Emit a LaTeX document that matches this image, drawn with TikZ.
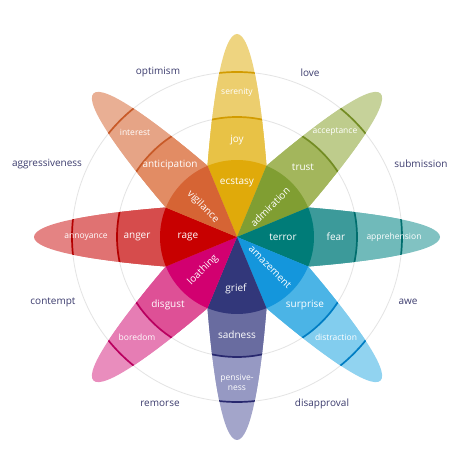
\documentclass[tikz,border=0pt]{standalone}
\usepackage{fontspec}
\setmainfont{Open Sans}
\usepackage{tikz}

\definecolor{navytext}{RGB}{60,60,110}
\definecolor{ringgrey}{RGB}{228,228,228}
% joy
\definecolor{ecstasyc}{RGB}{224,170,10}
\definecolor{joyc}{RGB}{232,194,70}
\definecolor{serenityc}{RGB}{236,206,110}
\definecolor{joyline}{RGB}{210,155,0}
% trust
\definecolor{admirationc}{RGB}{128,158,50}
\definecolor{trustc}{RGB}{163,182,92}
\definecolor{acceptancec}{RGB}{190,204,140}
\definecolor{trustline}{RGB}{115,140,35}
% fear
\definecolor{terrorc}{RGB}{0,124,120}
\definecolor{fearc}{RGB}{60,154,154}
\definecolor{apprehensionc}{RGB}{112,186,186}
\definecolor{fearline}{RGB}{0,110,110}
% surprise
\definecolor{amazementc}{RGB}{20,150,220}
\definecolor{surprisec}{RGB}{75,180,230}
\definecolor{distractionc}{RGB}{130,205,238}
\definecolor{surpriseline}{RGB}{0,125,195}
% sadness
\definecolor{griefc}{RGB}{50,55,122}
\definecolor{sadnessc}{RGB}{105,108,160}
\definecolor{pensivenessc}{RGB}{150,153,195}
\definecolor{sadnessline}{RGB}{40,40,110}
% disgust
\definecolor{loathingc}{RGB}{210,0,112}
\definecolor{disgustc}{RGB}{222,80,150}
\definecolor{boredomc}{RGB}{230,125,180}
\definecolor{disgustline}{RGB}{185,0,95}
% anger
\definecolor{ragec}{RGB}{200,0,0}
\definecolor{angerc}{RGB}{214,76,76}
\definecolor{annoyancec}{RGB}{224,114,114}
\definecolor{angerline}{RGB}{180,0,0}
% anticipation
\definecolor{vigilancec}{RGB}{214,100,52}
\definecolor{anticipationc}{RGB}{226,140,100}
\definecolor{interestc}{RGB}{230,164,134}
\definecolor{anticipationline}{RGB}{200,90,40}

\def\petalshape{(0,0) -- (29.5,71) .. controls (24,140) and (14,203) .. (0,203)
  .. controls (-14,203) and (-24,140) .. (-29.5,71) -- cycle}

% angle, ring colour, middle colour, line colour
\newcommand{\petal}[4]{%
  \begin{scope}[shift={(237,237)},rotate=#1-90]
    \fill[#2!88!white] \petalshape;
    \begin{scope}
      \clip \petalshape;
      \fill[#2] (0,0) circle (165);
      \fill[#3] (0,0) circle (120);
      \draw[#4,line width=1.7pt] (0,0) circle (120) (0,0) circle (165);
    \end{scope}
  \end{scope}}

% angle, colour
\newcommand{\core}[2]{%
  \fill[#2] (237,237) -- ++(#1-22.5:77) arc[start angle=#1-22.5,end angle=#1+22.5,radius=77] -- cycle;}

\tikzset{
  outlabel/.style={text=navytext,font=\fontsize{10}{12}\selectfont},
  inlabel/.style={text=white,font=\fontsize{10}{12}\selectfont},
  tiplabel/.style={text=white,font=\fontsize{8.5}{10}\selectfont,align=center}
}

\begin{document}
\begin{tikzpicture}[x=1pt,y=1pt]
  \useasboundingbox (0,0) rectangle (474,474);
  \fill[white] (0,0) rectangle (474,474);

  \draw[ringgrey,line width=0.8pt] (237,237) circle (120);
  \draw[ringgrey,line width=0.8pt] (237,237) circle (165);

  \petal{90}{serenityc}{joyc}{joyline}
  \petal{45}{acceptancec}{trustc}{trustline}
  \petal{0}{apprehensionc}{fearc}{fearline}
  \petal{-45}{distractionc}{surprisec}{surpriseline}
  \petal{-90}{pensivenessc}{sadnessc}{sadnessline}
  \petal{-135}{boredomc}{disgustc}{disgustline}
  \petal{180}{annoyancec}{angerc}{angerline}
  \petal{135}{interestc}{anticipationc}{anticipationline}

  \core{90}{ecstasyc}
  \core{45}{admirationc}
  \core{0}{terrorc}
  \core{-45}{amazementc}
  \core{-90}{griefc}
  \core{-135}{loathingc}
  \core{180}{ragec}
  \core{135}{vigilancec}

  % inner wedges
  \node[inlabel] (ecstasy) at (237,292) {ecstasy};
  \node[inlabel,rotate=45] (admiration) at (270,267) {admiration};
  \node[inlabel] (terror) at (283,237) {terror};
  \node[inlabel,rotate=-45] (amazement) at (270,207) {amazement};
  \node[inlabel] (grief) at (236,185) {grief};
  \node[inlabel,rotate=45] (loathing) at (203,204) {loathing};
  \node[inlabel] (rage) at (188,237) {rage};
  \node[inlabel,rotate=-45] (vigilance) at (203,267) {vigilance};

  % middle ring
  \node[inlabel] (joy) at (237,334) {joy};
  \node[inlabel] (trust) at (303,307) {trust};
  \node[inlabel] (fear) at (336,237) {fear};
  \node[inlabel] (surprise) at (305,169) {surprise};
  \node[inlabel] (sadness) at (237,139) {sadness};
  \node[inlabel] (disgust) at (168,169) {disgust};
  \node[inlabel] (anger) at (137,237) {anger};
  \node[inlabel] (anticipation) at (170,309) {anticipation};

  % outer ring
  \node[tiplabel] (serenity) at (237,382) {serenity};
  \node[tiplabel] (acceptance) at (335,342) {acceptance};
  \node[tiplabel] (apprehension) at (394,237) {apprehension};
  \node[tiplabel] (distraction) at (336,137) {distraction};
  \node[tiplabel] (pensiveness) at (237,92) {pensive-\\ness};
  \node[tiplabel] (boredom) at (137,137) {boredom};
  \node[tiplabel] (annoyance) at (86,237) {annoyance};
  \node[tiplabel] (interest) at (135,342) {interest};

  % dyads
  \node[outlabel] (optimism) at (158,402) {optimism};
  \node[outlabel] (love) at (310,401) {love};
  \node[outlabel] (submission) at (421,310) {submission};
  \node[outlabel] (awe) at (408,172) {awe};
  \node[outlabel] (disapproval) at (322,70) {disapproval};
  \node[outlabel] (remorse) at (160,70) {remorse};
  \node[outlabel] (contempt) at (53,172) {contempt};
  \node[outlabel] (aggressiveness) at (47,310) {aggressiveness};
\end{tikzpicture}
\end{document}
